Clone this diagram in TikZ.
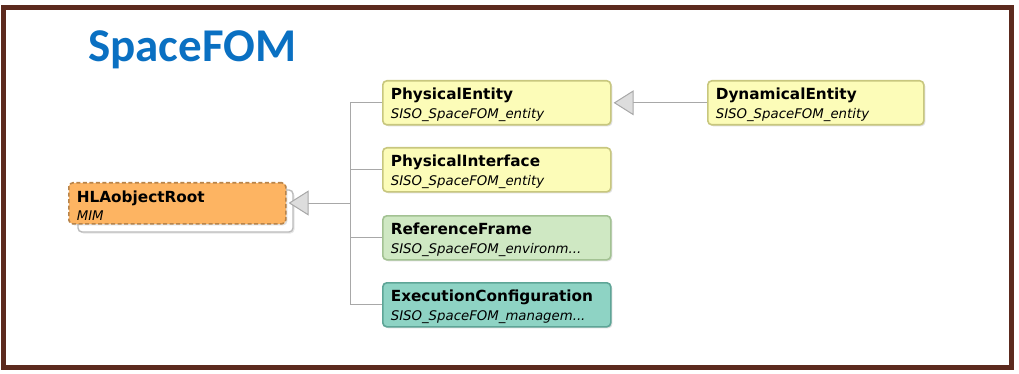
\documentclass[tikz,border=0pt]{standalone}
\usepackage{fontspec}
\setmainfont{Carlito}
\newfontfamily\uifont{DejaVu Sans}
\usetikzlibrary{arrows.meta,shadows}

\definecolor{frame}{HTML}{5C2A1E}
\definecolor{titleblue}{HTML}{0A70C2}
\definecolor{yelfill}{HTML}{FCFCB8}
\definecolor{yeldraw}{HTML}{C8C77E}
\definecolor{grnfill}{HTML}{CFE8C3}
\definecolor{grndraw}{HTML}{A3C293}
\definecolor{tealfill}{HTML}{8ED3C4}
\definecolor{tealdraw}{HTML}{5EA597}
\definecolor{orgfill}{HTML}{FDB462}
\definecolor{orgdraw}{HTML}{B8844A}
\definecolor{linegray}{HTML}{A8A8A8}
\definecolor{tipfill}{HTML}{DDDDDD}
\definecolor{backdraw}{HTML}{BBBBBB}

\newcommand{\subname}[1]{{\uifont\itshape\fontsize{13.3}{19}\selectfont #1}}

\tikzset{
  cls/.style={rounded corners=4pt, line width=1.6pt, anchor=north west,
    minimum width=228pt, minimum height=44pt, text width=212pt,
    inner xsep=8pt, inner ysep=0pt, align=left,
    font=\uifont\fontsize{15.3}{19}\selectfont,
    execute at begin node={\rule{0pt}{16.5pt}},
    drop shadow={shadow xshift=1.5pt, shadow yshift=-1.5pt, opacity=0.25, fill=gray}},
  yel/.style={cls, fill=yelfill, draw=yeldraw},
  grn/.style={cls, fill=grnfill, draw=grndraw},
  teal/.style={cls, fill=tealfill, draw=tealdraw},
  conn/.style={draw=linegray, line width=1pt},
  gen/.style={conn, -{Triangle[length=20pt, width=25pt, fill=tipfill]}},
}

\begin{document}
\begin{tikzpicture}[x=1pt, y=-1pt]
  \useasboundingbox (0,0) rectangle (1019,374);

  % outer frame
  \draw[frame, line width=5pt] (3.5,8) rectangle (1011,367);

  % heading
  \node[anchor=base west, inner sep=0pt, text=titleblue,
        font=\fontsize{47}{50}\selectfont\bfseries] (title) at (88,62) {SpaceFOM};

  % root class: stacked outline behind the dashed box
  \draw[backdraw, line width=1.4pt, fill=white, rounded corners=4pt,
        drop shadow={shadow xshift=1.5pt, shadow yshift=-1.5pt, opacity=0.2, fill=gray}]
        (78,190) rectangle (293,232);
  \node[cls, minimum width=217pt, minimum height=41pt, text width=201pt,
        execute at begin node={},
        fill=orgfill, draw=orgdraw, dashed, dash pattern=on 4pt off 2.5pt] (hla) at (68,182)
        {\textbf{HLAobjectRoot}\\[-1pt]\subname{MIM}};

  % subclasses
  \node[yel] (pe) at (382,80)
    {\textbf{PhysicalEntity}\\\subname{SISO\_SpaceFOM\_entity}};
  \node[yel] (pi) at (382,147)
    {\textbf{PhysicalInterface}\\\subname{SISO\_SpaceFOM\_entity}};
  \node[grn] (rf) at (382,215)
    {\textbf{ReferenceFrame}\\\subname{SISO\_SpaceFOM\_environm...}};
  \node[teal] (ec) at (382,282)
    {\textbf{ExecutionConfiguration}\\\subname{SISO\_SpaceFOM\_managem...}};
  \node[yel, minimum width=216pt, text width=200pt] (de) at (707,80)
    {\textbf{DynamicalEntity}\\\subname{SISO\_SpaceFOM\_entity}};

  % generalization tree
  \coordinate (trunk) at (350,203);
  \draw[conn] (pe.west) -- ++(-32,0) |- (ec.west);
  \draw[conn] (pi.west) -- ++(-32,0);
  \draw[conn] (rf.west) -- ++(-32,0);
  \draw[gen] (trunk) -- ([xshift=2pt]hla.east |- trunk);

  % DynamicalEntity specializes PhysicalEntity
  \draw[gen] (de.west |- pe.west) -- ([xshift=2pt]pe.east);
\end{tikzpicture}
\end{document}
